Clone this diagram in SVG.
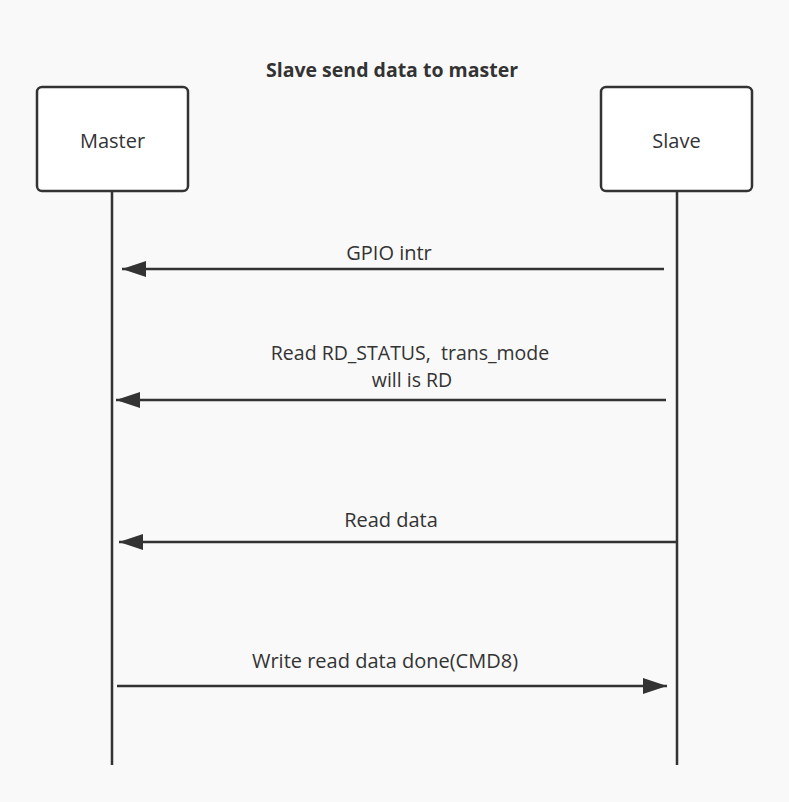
<svg xmlns="http://www.w3.org/2000/svg" width="789" height="802" viewBox="0 0 789 802">
<style>
.bg{fill:#f9f9f9}
.box{fill:#ffffff;stroke:#333333;stroke-width:2.5}
.life{stroke:#333333;stroke-width:2.5;fill:none}
.msg{stroke:#333333;stroke-width:2.5;fill:none}
.t{font-family:"Open Sans","Noto Sans","Liberation Sans",sans-serif;font-size:20px;fill:#333333;text-anchor:middle;white-space:pre}
.t2{font-size:19.5px}
.title{font-family:"Open Sans","Noto Sans","Liberation Sans",sans-serif;font-size:19.5px;font-weight:bold;fill:#333333;text-anchor:middle}
</style>
<defs>
<marker id="ah" markerUnits="userSpaceOnUse" markerWidth="26" markerHeight="18" refX="24" refY="8" orient="auto">
<path d="M0,0 L24,8 L0,16 Z" fill="#333333"/>
</marker>
</defs>
<rect class="bg" x="0" y="0" width="789" height="802"/>
<text class="title" x="392" y="77">Slave send data to master</text>
<g id="lifelines">
<line class="life" x1="112" y1="191" x2="112" y2="765"/>
<line class="life" x1="677" y1="191" x2="677" y2="765"/>
</g>
<g id="master">
<rect class="box" x="37" y="87" width="151" height="104" rx="5"/>
<text class="t" x="112.5" y="148">Master</text>
</g>
<g id="slave">
<rect class="box" x="601" y="87" width="151" height="104" rx="5"/>
<text class="t" x="676.5" y="148">Slave</text>
</g>
<g id="connectors">
<line class="msg" x1="664" y1="269" x2="122" y2="269" marker-end="url(#ah)"/>
<text class="t" x="389" y="260">GPIO intr</text>
<line class="msg" x1="666" y1="400" x2="116" y2="400" marker-end="url(#ah)"/>
<text class="t t2" x="410" y="360" xml:space="preserve">Read RD_STATUS,  trans_mode</text>
<text class="t t2" x="412" y="387">will is RD</text>
<line class="msg" x1="677" y1="542" x2="119" y2="542" marker-end="url(#ah)"/>
<text class="t" x="391" y="527">Read data</text>
<line class="msg" x1="117" y1="686" x2="667" y2="686" marker-end="url(#ah)"/>
<text class="t" x="385" y="668">Write read data done(CMD8)</text>
</g>
</svg>
